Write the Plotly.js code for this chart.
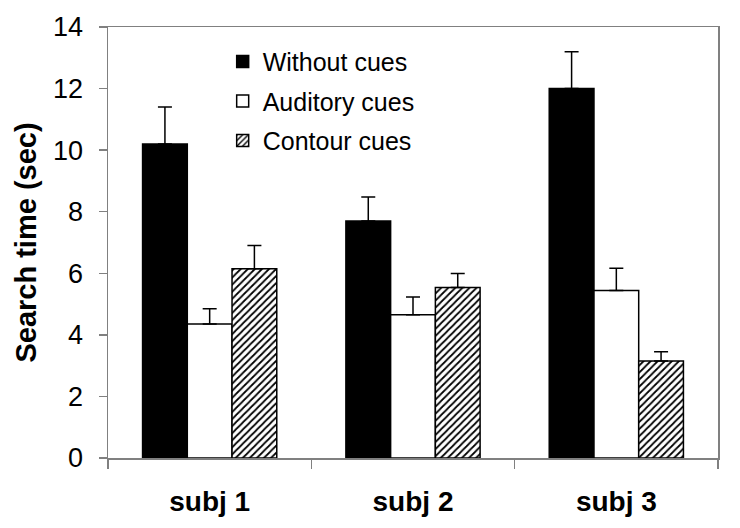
<!DOCTYPE html>
<html>
<head>
<meta charset="utf-8">
<script src="https://cdn.plot.ly/plotly-3.0.1.min.js"></script>
<style>body{margin:0;padding:0;background:#fff;}#chart{width:740px;height:528px;}</style>
</head>
<body>
<div id="chart"></div>
<script>
const categories = ["subj 1", "subj 2", "subj 3"];
const seriesNames = ["Without cues", "Auditory cues", "Contour cues"];
const withoutCues = [10.2, 7.7, 12.0];
const withoutCuesErr = [1.2, 0.78, 1.2];
const auditoryCues = [4.35, 4.65, 5.44];
const auditoryCuesErr = [0.5, 0.58, 0.72];
const contourCues = [6.15, 5.54, 3.15];
const contourCuesErr = [0.75, 0.45, 0.3];
const yTicks = [0, 2, 4, 6, 8, 10, 12, 14];

const zeros = categories.map(() => 0);
function errBar(arr) {
  return {type: "data", symmetric: false, array: arr, arrayminus: zeros,
          color: "#000", thickness: 1.5, width: 7};
}
const line = {color: "#000", width: 1.5};

const traces = [
  {type: "bar", name: seriesNames[0], x: categories, y: withoutCues,
   error_y: errBar(withoutCuesErr), legendgroup: "a",
   marker: {color: "#000", line: line}},
  {type: "bar", name: seriesNames[1], x: categories, y: auditoryCues,
   error_y: errBar(auditoryCuesErr), legendgroup: "b",
   marker: {color: "#fff", line: line}},
  {type: "bar", name: seriesNames[2], x: categories, y: contourCues,
   error_y: errBar(contourCuesErr), legendgroup: "c",
   marker: {color: "#fff", line: line,
            pattern: {shape: "/", fgcolor: "#000", bgcolor: "#fff", size: 5, solidity: 0.35}}}
];

const layout = {
  width: 740, height: 528,
  margin: {l: 108, r: 22, t: 27, b: 70},
  paper_bgcolor: "#fff", plot_bgcolor: "#fff",
  font: {family: "Liberation Sans, Arial, sans-serif", color: "#000"},
  barmode: "group", bargap: 0.34, bargroupgap: 0,
  showlegend: true,
  legend: {x: 0.188, y: 0.973, xanchor: "left", yanchor: "top",
           bgcolor: "rgba(0,0,0,0)", font: {size: 25, color: "#000"},
           traceorder: "grouped", tracegroupgap: 4},
  xaxis: {type: "category", range: [-0.5, 2.5], showline: true, mirror: true,
          linecolor: "#808080", linewidth: 1.5, ticks: "outside", tickson: "boundaries",
          ticklen: 9, tickcolor: "#808080", tickwidth: 1.5, showgrid: false,
          tickfont: {size: 28, color: "#000", weight: "bold"}, ticklabelstandoff: 18},
  yaxis: {range: [0, 14], tickvals: yTicks, ticktext: yTicks.map(String),
          showline: true, mirror: true, linecolor: "#808080", linewidth: 1.5,
          ticks: "outside", ticklen: 8, tickcolor: "#808080", tickwidth: 1.5,
          showgrid: false, zeroline: false,
          tickfont: {size: 27, color: "#000"}, ticklabelstandoff: 10,
          title: {text: "Search time (sec)", font: {size: 29, color: "#000", weight: "bold"}, standoff: 8}}
};

Plotly.newPlot("chart", traces, layout, {displayModeBar: false, staticPlot: true});
</script>
</body>
</html>
